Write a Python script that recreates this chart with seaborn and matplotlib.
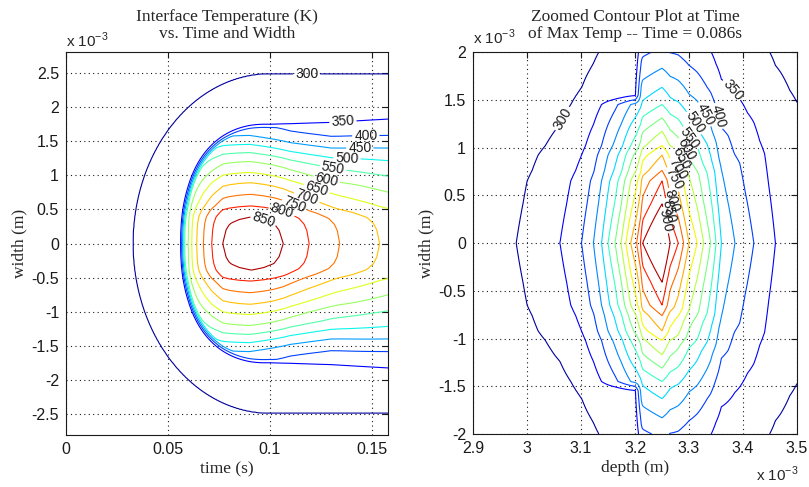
import numpy as np
import matplotlib
matplotlib.use('Agg')
import matplotlib.pyplot as plt
import seaborn as sns
from matplotlib.ticker import FuncFormatter

# ---------------- left panel: interface temperature vs time and width ----------------
levels_left = [300, 350, 400, 450, 500, 550, 600, 650, 700, 750, 800, 850]

# temperature of the hot core on the centre line (width = 0) against time
core_time = [0.050, 0.0600, 0.0617, 0.0641, 0.0674, 0.0715, 0.0769, 0.0800, 0.0850, 0.0910,
             0.0970, 0.1020, 0.1066, 0.1193, 0.1343, 0.1539, 0.1580]
core_temp = [560, 600, 650, 700, 750, 800, 850, 859, 867, 872, 868, 861, 850, 800, 750, 700, 690]

# width profile across the core near the peak (width in mm, temperature in K)
core_prof_width = [0.0, 0.20, 0.30, 0.39, 0.47, 0.55, 0.72, 0.89, 1.04, 1.20, 1.33, 1.45, 1.58, 1.72, 1.90, 2.30]
core_prof_temp = [872, 867, 861, 850, 828, 800, 750, 700, 650, 600, 550, 500, 450, 410, 370, 320]

# change of the core width with time
core_scale_time = [0.0, 0.090, 0.110, 0.130, 0.158]
core_scale = [1.00, 1.00, 0.95, 0.94, 1.00]

# heating front (half width in mm of the 350 K line)
front_time = [0.0, 0.100, 0.131, 0.158]
front_half = [1.78, 1.78, 1.85, 1.90]
front_centre, front_depth = 0.100, 0.0435

# outer 300 K ring (half width in mm)
ring_centre, ring_depth, ring_half = 0.100, 0.067, 2.48
amb_left = 290

time_ticks = [0, 0.05, 0.1, 0.15]
width_ticks_left = [-2.5, -2, -1.5, -1, -0.5, 0, 0.5, 1, 1.5, 2, 2.5]

# ---------------- right panel: zoomed depth vs width at t = 0.086 s ----------------
levels_right = [300, 350, 400, 450, 500, 550, 600, 650, 700, 750, 800, 850, 900]

# temperature along width = 0 against depth (depth in mm)
depth_pts = [2.90, 2.98, 3.061, 3.101, 3.123, 3.138, 3.150, 3.163, 3.174, 3.183, 3.192, 3.203, 3.210, 3.214,
             3.250, 3.265, 3.280, 3.290, 3.300, 3.315, 3.327, 3.340, 3.350, 3.360, 3.385, 3.420, 3.460, 3.50]
depth_temp = [270, 300, 350, 400, 450, 500, 550, 600, 650, 700, 750, 800, 850, 900,
              1000, 900, 850, 800, 750, 700, 650, 600, 550, 500, 450, 400, 350, 325]

# width profile in the hottest column (depth 3.25 mm)
col_prof_width = [0.0, 0.41, 0.65, 0.76, 0.92, 1.02, 1.17, 1.31, 1.45, 1.63, 1.83, 2.05, 2.30, 2.60, 3.00]
col_prof_temp = [1000, 900, 850, 800, 750, 700, 650, 600, 550, 500, 450, 400, 350, 300, 260]

# the columns get wider on the deep side
col_scale_depth = [2.90, 3.25, 3.35, 3.46, 3.50]
col_scale = [1.00, 1.00, 1.15, 1.50, 1.60]
amb_right = 250

# cooler shoulder above |width| = 1.5 mm on the shallow side of depth 3.2 mm
shoulder_width, shoulder_depth, shoulder_keep = 1.5, 3.2, 0.3

depth_ticks = [2.9, 3.0, 3.1, 3.2, 3.3, 3.4, 3.5]
width_ticks_right = [-2, -1.5, -1, -0.5, 0, 0.5, 1, 1.5, 2]

# ---------------- build the fields ----------------
t = np.linspace(0, 0.158, 480)
w = np.linspace(-2.8, 2.8, 421)
tt, ww = np.meshgrid(t, w)
aw = np.abs(ww)

core_frac = (np.array(core_prof_temp) - amb_left) / (core_prof_temp[0] - amb_left)
core = np.interp(tt, core_time, core_temp)
scale = np.interp(tt, core_scale_time, core_scale)
inner = amb_left + (core - amb_left) * np.interp(aw / scale, core_prof_width, core_frac)

bf = np.interp(tt, front_time, front_half)
dt = np.clip(front_centre - tt, 0, None) / front_depth
rho = (dt ** 2.3 + (aw / bf) ** 2.3) ** (1 / 2.3)
step = np.interp(rho, [0.95, 1.02], [1.0, 0.0])

rho_ring = np.hypot(np.clip(ring_centre - tt, 0, None) / ring_depth, aw / ring_half)
ring = np.interp(rho_ring, [0, 0.85, 1.0, 1.25], [335, 330, 300, 285])
temp_left = np.maximum(amb_left + (inner - amb_left) * step, ring)

d = np.linspace(2.9, 3.5, 361)
wr = np.linspace(-2, 2, 401)
dd, wwr = np.meshgrid(d, wr)
col_frac = (np.array(col_prof_temp) - amb_right) / (col_prof_temp[0] - amb_right)
tc = np.interp(dd, depth_pts, depth_temp)
cs_scale = np.interp(dd, col_scale_depth, col_scale)
temp_right = amb_right + (tc - amb_right) * np.interp(np.abs(wwr) / cs_scale, col_prof_width, col_frac)
cut = (np.interp(dd, [shoulder_depth, shoulder_depth + 0.012], [1.0, 0.0])
       * np.interp(np.abs(wwr), [shoulder_width - 0.05, shoulder_width + 0.05], [0.0, 1.0]))
temp_right = np.where(temp_right > 300, 300 + (temp_right - 300) * (1 - cut * (1 - shoulder_keep)), temp_right)


def label_spots(xs, ys, field, levels, where):
    # put each label on the upper branch of its own line at the chosen x
    spots = []
    for lev, x0 in zip(levels, where):
        j = np.argmin(np.abs(xs - x0))
        col = field[:, j]
        up = np.where((ys >= 0) & (col >= lev))[0]
        spots.append((xs[j], ys[up.max()]))
    return spots


# ---------------- draw ----------------
sns.set_theme(style='white')
plt.rcParams['font.family'] = ['Liberation Sans', 'DejaVu Sans']
plt.rcParams['mathtext.fontset'] = 'custom'
plt.rcParams['mathtext.rm'] = 'Liberation Sans'

fig = plt.figure(figsize=(8.09, 4.87), dpi=100)
ax1 = fig.add_axes([0.0816, 0.1068, 0.398, 0.7864])
ax2 = fig.add_axes([0.5847, 0.1088, 0.4005, 0.7844])

serif = {'family': 'Liberation Serif', 'size': 12.5}
milli = FuncFormatter(lambda v, p: '%g' % round(v * 1e3, 6))

cs1 = ax1.contour(t, w * 1e-3, temp_left, levels=levels_left, cmap='jet', vmin=285, vmax=875, linewidths=0.8)
spots1 = label_spots(t, w * 1e-3, temp_left, levels_left,
                     [0.118, 0.136, 0.147, 0.144, 0.138, 0.131, 0.128, 0.123, 0.118, 0.112, 0.106, 0.097])
ax1.clabel(cs1, fmt='%d', fontsize=10, colors='k', inline=True, inline_spacing=2, manual=spots1)
ax1.set_xlim(0, 0.158)
ax1.set_ylim(-2.8e-3, 2.8e-3)
ax1.set_xticks(time_ticks)
ax1.set_yticks(np.array(width_ticks_left) * 1e-3)
ax1.xaxis.set_major_formatter(FuncFormatter(lambda v, p: '%g' % round(v, 6)))
ax1.yaxis.set_major_formatter(milli)
ax1.set_title('Interface Temperature (K)\nvs. Time and Width', fontdict=serif, pad=10, linespacing=1.1)
ax1.set_xlabel('time (s)', fontdict=serif, labelpad=3)
ax1.set_ylabel('width (m)', fontdict=serif, labelpad=3)

cs2 = ax2.contour(d * 1e-3, wr * 1e-3, temp_right, levels=levels_right, cmap='jet', vmin=280, vmax=930, linewidths=0.8)
spots2 = label_spots(d * 1e-3, wr * 1e-3, temp_right, levels_right,
                     np.array([3.067, 3.38, 3.355, 3.33, 3.31, 3.30, 3.295, 3.285, 3.278, 3.272, 3.268, 3.262, 3.256]) * 1e-3)
ax2.clabel(cs2, fmt='%d', fontsize=10, colors='k', inline=True, inline_spacing=2, manual=spots2)
ax2.set_xlim(2.9e-3, 3.5e-3)
ax2.set_ylim(-2e-3, 2e-3)
ax2.set_xticks(np.array(depth_ticks) * 1e-3)
ax2.set_yticks(np.array(width_ticks_right) * 1e-3)
ax2.xaxis.set_major_formatter(milli)
ax2.yaxis.set_major_formatter(milli)
ax2.set_title('Zoomed Contour Plot at Time\nof Max Temp -- Time = 0.086s', fontdict=serif, pad=10, linespacing=1.1)
ax2.set_xlabel('depth (m)', fontdict=serif, labelpad=3)
ax2.set_ylabel('width (m)', fontdict=serif, labelpad=3)

for ax in (ax1, ax2):
    ax.grid(True, color='k', linestyle=(0, (1, 3)), linewidth=0.8)
    ax.tick_params(direction='in', length=4, width=0.8, top=True, right=True,
                   labelsize=11.5, colors='k', pad=5)
    for sp in ax.spines.values():
        sp.set_color('k')
        sp.set_linewidth(0.8)

fig.text(0.082, 0.918, r'x 10$^{-3}$', fontsize=11, va='center', ha='left')
fig.text(0.585, 0.924, r'x 10$^{-3}$', fontsize=11, va='center', ha='left')
fig.text(0.987, 0.025, r'x 10$^{-3}$', fontsize=11, va='center', ha='right')

fig.savefig('out.png', dpi=100, facecolor='white')
